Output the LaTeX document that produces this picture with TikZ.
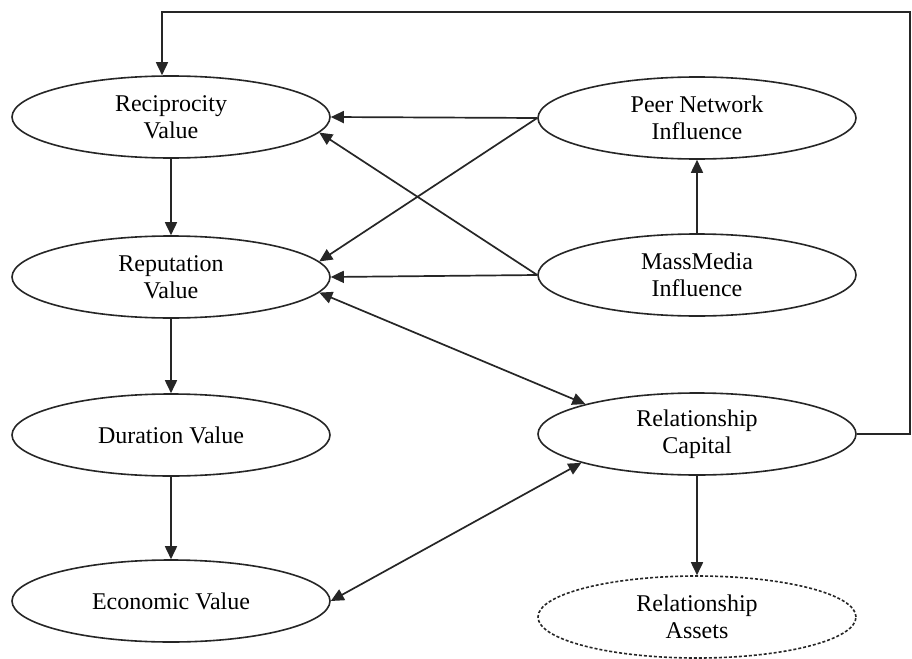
\documentclass[tikz,border=0pt]{standalone}
\usepackage{fontspec}
\setmainfont{Liberation Serif}
\usetikzlibrary{shapes.geometric,arrows.meta}
\begin{document}
\begin{tikzpicture}[x=1pt,y=-1pt,
  ell/.style={ellipse,draw=black!85,line width=1.6pt,minimum width=318pt,minimum height=82pt,inner sep=0pt,align=center,font=\fontsize{24}{26.5}\selectfont},
  conn/.style={draw=black!85,line width=1.7pt,-{Triangle[length=13pt,width=12pt]}},
  both/.style={draw=black!85,line width=1.7pt,{Triangle[length=13pt,width=12pt]}-{Triangle[length=13pt,width=12pt]}}]
\useasboundingbox[fill=white] (0,0) rectangle (912,658);
\node[ell] (rec) at (171,117) {Reciprocity\\Value};
\node[ell] (peer) at (697,118) {Peer Network\\Influence};
\node[ell] (rep) at (171,277) {Reputation\\Value};
\node[ell] (mm) at (697,275) {MassMedia\\Influence};
\node[ell] (dur) at (171,435) {Duration Value};
\node[ell] (rc) at (697,434) {Relationship\\Capital};
\node[ell] (eco) at (171,601) {Economic Value};
\node[ell,dash pattern=on 3pt off 2pt] (ra) at (697,617) {Relationship\\Assets};
\coordinate (c1) at (910,434);
\coordinate (c2) at (910,12);
\coordinate (c3) at (162,12);
\draw[conn] (rec) -- (rep);
\draw[conn] (rep) -- (dur);
\draw[conn] (dur) -- (eco);
\draw[conn] (peer.west) -- (rec.east);
\draw[conn] (peer.west) -- (rep.6);
\draw[conn] (mm.west) -- (rec.-6);
\draw[conn] (mm.west) -- (rep.east);
\draw[conn] (mm) -- (peer);
\draw[both] (rep.-6) -- (rc.165.8);
\draw[both] (eco.east) -- (rc.194.2);
\draw[conn] (rc) -- (ra);
\draw[conn] (rc.east) -- (c1) -- (c2) -- (c3) -- (c3 |- rec.north);
\end{tikzpicture}
\end{document}
